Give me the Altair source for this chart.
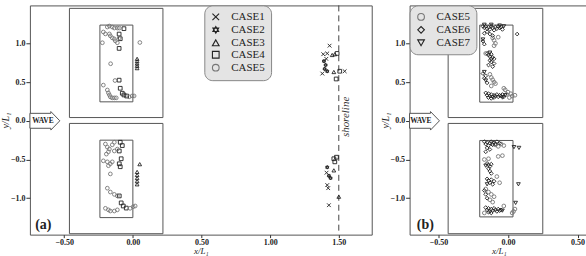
import altair as alt
import pandas as pd

FONT = "Liberation Serif"

# ---------------- panel (a) data ----------------
A_CASE1 = [(1.433, 0.97), (1.416, 0.87), (1.387, 0.86), (1.409, 0.80), (1.380, 0.61), (1.543, 0.64),
           (1.416, -0.83), (1.423, -0.87), (1.428, -1.09), (1.411, -0.67)]
A_CASE2 = [(1.392, 0.77), (1.404, 0.72), (1.397, 0.67), (1.416, 0.64),
           (1.416, -0.60), (1.428, -0.71), (1.440, -0.74)]
A_CASE3 = [(1.452, 0.85), (1.471, 0.86), (1.464, 0.63), (1.464, -0.64), (1.500, -0.98),
           (0.031, 0.68), (0.031, 0.71), (0.031, 0.74), (0.031, 0.77), (0.031, 0.80),
           (0.050, -0.56), (0.031, -0.66), (0.031, -0.70), (0.031, -0.74), (0.031, -0.78), (0.031, -0.82)]
A_CASE4 = [(1.488, 0.87), (1.507, 0.64), (1.481, 0.54), (1.464, -0.49), (1.471, -0.53), (1.483, -0.47),
           (-0.065, 1.19), (-0.100, 1.12), (-0.092, 1.06), (-0.100, 0.935), (-0.100, 0.525),
           (-0.092, 0.42), (-0.077, 0.356), (-0.065, 0.334), (-0.045, 0.32),
           (-0.092, -0.277), (-0.077, -0.32), (-0.099, -0.39), (-0.085, -0.49), (-0.099, -0.555),
           (-0.092, -0.593), (-0.099, -0.97), (-0.085, -1.06), (-0.070, -1.10), (-0.048, -1.127)]
A_CASE5 = [(-0.186, 1.211), (-0.171, 1.224), (-0.150, 1.211), (-0.135, 1.198), (-0.113, 1.198), (-0.099, 1.198),
           (-0.215, 1.147), (-0.200, 1.122), (-0.171, 1.122), (-0.164, 1.097), (-0.150, 1.071), (-0.135, 1.058),
           (-0.128, 1.033), (-0.113, 1.008), (-0.099, 1.071), (-0.222, 1.008), (0.051, 1.011), (-0.162, 0.737),
           (-0.130, 0.52), (-0.215, 0.461), (-0.186, 0.398), (-0.178, 0.360), (-0.171, 0.334), (-0.164, 0.309),
           (-0.150, 0.296), (-0.135, 0.296), (-0.121, 0.296), (-0.027, 0.309), (-0.005, 0.321), (0.009, 0.321),
           (-0.200, -0.30), (-0.186, -0.34), (-0.171, -0.365), (-0.150, -0.31), (-0.135, -0.277), (-0.178, -0.40),
           (-0.193, -0.43), (-0.135, -0.39), (-0.113, -0.365), (-0.215, -0.517), (-0.186, -0.53), (-0.164, -0.555),
           (-0.150, -0.53), (-0.178, -0.58), (-0.164, -0.686), (-0.186, -0.87), (-0.164, -0.92), (-0.135, -0.95),
           (-0.113, -0.97), (-0.200, -1.13), (-0.178, -1.15), (-0.164, -1.165), (-0.135, -1.165), (-0.113, -1.15),
           (-0.020, -1.13), (0.002, -1.11), (0.017, -1.10)]

A_RECT_X = [-0.462, -0.24, -0.462, -0.24]
A_RECT_X2 = [0.219, 0.0, 0.219, 0.0]
A_RECT_Y = [0.042, 0.245, -1.458, -1.25]
A_RECT_Y2 = [1.452, 1.236, -0.034, -0.25]

# ---------------- panel (b) data ----------------
B_CASE5 = [(-0.11, 1.07), (-0.10, 1.04), (-0.09, 1.00), (-0.10, 0.97), (-0.07, 1.08), (-0.16, 0.87),
           (-0.13, 0.60), (-0.12, 0.56), (-0.11, 0.53), (-0.10, 0.50), (-0.09, 0.48), (-0.12, 0.45),
           (-0.03, 0.42), (-0.02, 0.40), (0.00, 0.37), (0.02, 0.35), (0.03, 0.32), (0.05, 0.33),
           (0.01, 0.30), (-0.01, 0.34),
           (-0.11, -0.29), (-0.09, -0.31), (-0.07, -0.33), (-0.05, -0.30), (-0.03, -0.32), (-0.17, -0.50),
           (-0.14, -0.49), (-0.07, -0.46), (-0.04, -0.45), (-0.08, -0.72), (-0.06, -0.80), (-0.16, -0.88),
           (-0.14, -0.92), (-0.12, -0.95), (-0.10, -0.98), (-0.13, -1.02), (-0.11, -1.05), (-0.03, -1.10),
           (0.04, -1.17), (0.05, -1.14), (0.03, -1.19), (-0.17, -1.19)]
B_CASE6 = [(-0.18, 1.22), (-0.17, 1.20), (-0.16, 1.22), (-0.15, 1.19), (-0.14, 1.21), (-0.13, 1.18),
           (-0.12, 1.22), (-0.11, 1.20), (-0.10, 1.17), (-0.09, 1.21), (-0.08, 1.19), (-0.07, 1.22),
           (-0.06, 1.20), (-0.05, 1.21), (-0.04, 1.18), (-0.15, 1.15), (-0.13, 1.12), (-0.11, 1.10),
           (-0.17, 1.13), (0.066, 1.12), (-0.18, 1.03), (-0.17, 0.99),
           (-0.15, 0.87), (-0.14, 0.85), (-0.13, 0.83), (-0.12, 0.86), (-0.11, 0.82), (-0.10, 0.80),
           (-0.13, 0.78), (-0.12, 0.76), (-0.10, 0.74), (-0.14, 0.72), (-0.11, 0.70), (-0.12, 0.80),
           (-0.18, 0.61), (-0.17, 0.55), (-0.15, 0.49), (-0.16, 0.58),
           (-0.16, 0.36), (-0.15, 0.33), (-0.14, 0.35), (-0.13, 0.32), (-0.12, 0.34), (-0.11, 0.31),
           (-0.10, 0.33), (-0.09, 0.32), (-0.08, 0.34), (-0.07, 0.31), (-0.06, 0.33), (-0.05, 0.32),
           (-0.04, 0.34), (-0.03, 0.31), (-0.14, 0.30), (-0.12, 0.29), (-0.10, 0.30),
           (-0.17, -0.27), (-0.16, -0.30), (-0.15, -0.28), (-0.14, -0.32), (-0.13, -0.29), (-0.12, -0.27),
           (-0.11, -0.31), (-0.10, -0.28), (-0.09, -0.30), (-0.08, -0.27), (-0.06, -0.29), (-0.15, -0.35),
           (-0.13, -0.37), (-0.16, -0.40),
           (-0.15, -0.55), (-0.14, -0.57), (-0.13, -0.59), (-0.12, -0.56), (-0.14, -0.62), (-0.13, -0.65),
           (-0.12, -0.68), (-0.15, -0.75), (-0.14, -0.77), (-0.12, -0.76), (-0.10, -0.78), (-0.13, -0.80),
           (-0.11, -0.82), (-0.17, -0.90), (-0.16, -0.95), (-0.15, -1.00),
           (-0.16, -1.12), (-0.15, -1.15), (-0.14, -1.13), (-0.13, -1.17), (-0.12, -1.14), (-0.11, -1.16),
           (-0.10, -1.13), (-0.09, -1.15), (-0.08, -1.17), (-0.07, -1.14), (-0.06, -1.16), (-0.05, -1.15),
           (-0.14, -1.18), (-0.12, -1.19)]
B_CASE7 = [(-0.17, 1.24), (-0.12, 1.24), (-0.06, 1.23), (-0.03, 1.22), (-0.18, 1.05), (-0.13, 0.88),
           (-0.17, 0.63), (-0.16, 0.52), (-0.04, 0.30), (-0.02, 0.33),
           (0.043, -0.34), (0.079, -0.35), (0.075, -0.82), (0.055, -1.06), (-0.04, -1.16),
           (-0.15, -0.82), (-0.16, -0.58)]

B_RECT_X = [-0.43, -0.203, -0.43, -0.203]
B_RECT_X2 = [0.25, 0.036, 0.25, 0.036]
B_RECT_Y = [0.042, 0.241, -1.458, -1.241]
B_RECT_Y2 = [1.452, 1.236, -0.034, -0.254]

Y_DOMAIN = [-1.47, 1.49]
A_X_DOMAIN = [-0.75, 1.74]
B_X_DOMAIN = [-0.707, 0.575]
Y_TICKS = [-1.0, -0.5, 0.0, 0.5, 1.0]
A_X_TICKS = [-0.5, 0.0, 0.5, 1.0, 1.5]
B_X_TICKS = [-0.5, 0.0, 0.5]

SHORELINE_X = 1.5
SHORELINE_LABEL = (1.55, 0.05, "shoreline")
A_WAVE = (-0.641, 0.0)
A_WAVE_TEXT = (-0.655, 0.0, "WAVE")
B_WAVE = (-0.60, 0.0)
B_WAVE_TEXT = (-0.626, 0.0, "WAVE")
A_TAG = (-0.652, -1.35, "(a)")
B_TAG = (-0.594, -1.35, "(b)")

CROSS = "M-1,-1L1,1M-1,1L1,-1"
HEXAGRAM = "M0,-1L0.866,0.5L-0.866,0.5Z M0,1L0.866,-0.5L-0.866,-0.5Z"
ARROW = "M-1,-0.5L0.4,-0.5L0.4,-0.62L1,0L0.4,0.62L0.4,0.5L-1,0.5Z"


def pts(case_lists):
    rows = []
    for name, lst in case_lists:
        for x, y in lst:
            rows.append({"case": name, "x": x, "y": y})
    return pd.DataFrame(rows)


def make_panel(df, rx, rx2, ry, ry2, xdom, width, xticks, shape_dom, shape_rng, color_rng,
               legend_x, wave, wave_text, tag, shoreline=False):
    xs = alt.Scale(domain=xdom, nice=False, zero=False)
    ys = alt.Scale(domain=Y_DOMAIN, nice=False, zero=False)
    xax = alt.Axis(values=xticks, format=".2f", title="x/L₁")
    yax = alt.Axis(values=Y_TICKS, format=".1f", title="y/L₁")

    rects = alt.Chart(pd.DataFrame({"x": rx, "x2": rx2, "y": ry, "y2": ry2})).mark_rect(
        fill=None, stroke="#555", strokeWidth=1
    ).encode(x=alt.X("x:Q", scale=xs, axis=xax), x2="x2", y=alt.Y("y:Q", scale=ys, axis=yax), y2="y2")

    layers = [rects]
    if shoreline:
        layers.append(alt.Chart(pd.DataFrame({"x": [SHORELINE_X]})).mark_rule(
            color="#444", strokeDash=[6, 4], strokeWidth=1).encode(x=alt.X("x:Q", scale=xs)))
        layers.append(alt.Chart(pd.DataFrame({"x": [SHORELINE_LABEL[0]], "y": [SHORELINE_LABEL[1]],
                                              "t": [SHORELINE_LABEL[2]]})).mark_text(
            angle=270, font=FONT, fontStyle="italic", fontSize=11, color="#333", baseline="middle"
        ).encode(x=alt.X("x:Q", scale=xs), y=alt.Y("y:Q", scale=ys), text="t:N"))

    layers.append(alt.Chart(pd.DataFrame({"x": [wave[0]], "y": [wave[1]]})).mark_point(
        shape=ARROW, size=900, filled=True, fill="white", stroke="#555", strokeWidth=1, opacity=1
    ).encode(x=alt.X("x:Q", scale=xs), y=alt.Y("y:Q", scale=ys)))
    layers.append(alt.Chart(pd.DataFrame({"x": [wave_text[0]], "y": [wave_text[1]], "t": [wave_text[2]]})).mark_text(
        font=FONT, fontWeight="bold", fontSize=7.5, color="#222", baseline="middle"
    ).encode(x=alt.X("x:Q", scale=xs), y=alt.Y("y:Q", scale=ys), text="t:N"))
    layers.append(alt.Chart(pd.DataFrame({"x": [tag[0]], "y": [tag[1]], "t": [tag[2]]})).mark_text(
        font=FONT, fontWeight="bold", fontSize=14, color="#222", baseline="middle"
    ).encode(x=alt.X("x:Q", scale=xs), y=alt.Y("y:Q", scale=ys), text="t:N"))

    leg = alt.Legend(title=None, orient="none", legendX=legend_x, legendY=0, fillColor="#e4e4e4",
                     strokeColor="#888", cornerRadius=8, padding=6, labelFont=FONT, labelFontSize=11,
                     labelColor="#222", symbolSize=45, symbolStrokeWidth=1.1, labelOffset=10,
                     rowPadding=0)
    layers.append(alt.Chart(df).mark_point(filled=False, size=14, strokeWidth=0.9, opacity=1).encode(
        x=alt.X("x:Q", scale=xs), y=alt.Y("y:Q", scale=ys),
        shape=alt.Shape("case:N", scale=alt.Scale(domain=shape_dom, range=shape_rng), legend=leg),
        color=alt.Color("case:N", scale=alt.Scale(domain=shape_dom, range=color_rng), legend=leg),
    ))
    return alt.layer(*layers).properties(width=width, height=230)


a_df = pts([("CASE1", A_CASE1), ("CASE2", A_CASE2), ("CASE3", A_CASE3), ("CASE4", A_CASE4), ("CASE5", A_CASE5)])
b_df = pts([("CASE5", B_CASE5), ("CASE6", B_CASE6), ("CASE7", B_CASE7)])

panel_a = make_panel(a_df, A_RECT_X, A_RECT_X2, A_RECT_Y, A_RECT_Y2, A_X_DOMAIN, 343, A_X_TICKS,
                     ["CASE1", "CASE2", "CASE3", "CASE4", "CASE5"],
                     [CROSS, HEXAGRAM, "triangle-up", "square", "circle"],
                     ["#222", "#222", "#222", "#222", "#777"], 175, A_WAVE, A_WAVE_TEXT, A_TAG, shoreline=True)
panel_b = make_panel(b_df, B_RECT_X, B_RECT_X2, B_RECT_Y, B_RECT_Y2, B_X_DOMAIN, 179, B_X_TICKS,
                     ["CASE5", "CASE6", "CASE7"],
                     ["circle", "diamond", "triangle-down"],
                     ["#777", "#222", "#222"], 0, B_WAVE, B_WAVE_TEXT, B_TAG)

chart = alt.hconcat(panel_a, panel_b, spacing=6).resolve_scale(
    x="independent", y="independent", shape="independent", color="independent"
).resolve_legend(shape="independent", color="independent").configure(
    font=FONT
).configure_view(stroke="#555", strokeWidth=1).configure_axis(
    grid=False, domain=False, tickColor="#333", tickSize=4, labelFont=FONT, labelFontWeight="bold",
    labelFontSize=8, labelColor="#222", titleFont=FONT, titleFontStyle="italic", titleFontWeight="normal",
    titleFontSize=10, titleColor="#222", labelPadding=2, titlePadding=2
).configure_axisX(
    labelPadding=1, titlePadding=0, titleFontSize=9, tickSize=3
).configure_axisY(
    titlePadding=0, labelPadding=1
).properties(padding={"left": -1, "top": 4, "right": -3, "bottom": 0})

chart.save("out.html", embed_options={"renderer": "svg", "actions": False})
